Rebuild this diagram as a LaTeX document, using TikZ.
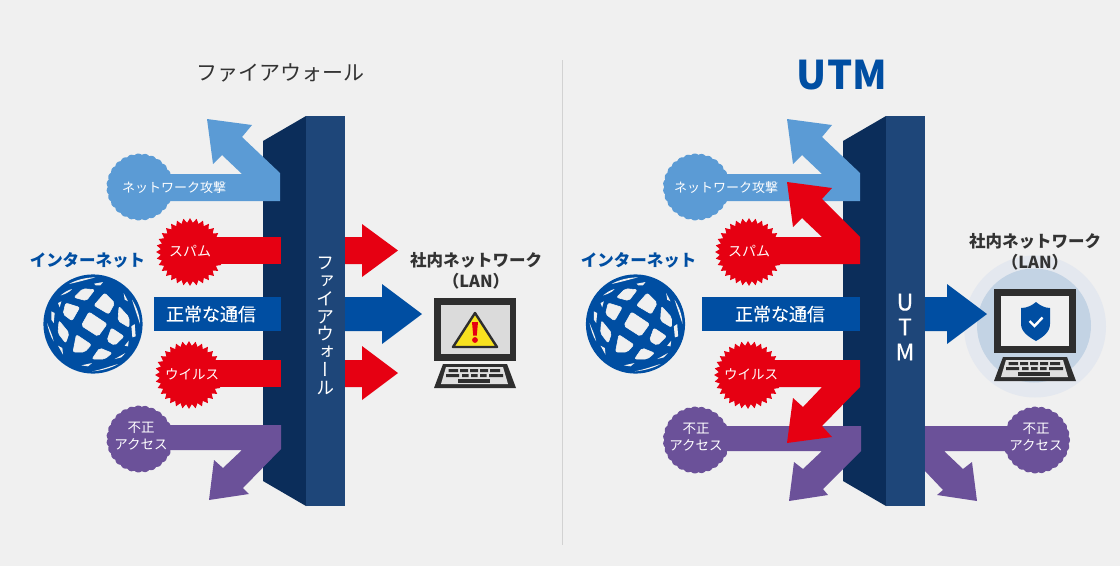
\documentclass[tikz,border=0pt]{standalone}
\usepackage{fontspec}
\setmainfont{Noto Sans CJK JP}
\newfontfamily\vfont[RawFeature=+vert]{Noto Sans CJK JP}
\definecolor{bg}{HTML}{F0F0F0}
\definecolor{cred}{HTML}{E60012}
\definecolor{cblue}{HTML}{004EA2}
\definecolor{clight}{HTML}{5B9BD5}
\definecolor{cpurple}{HTML}{6B5199}
\definecolor{wallD}{HTML}{0B2D5A}
\definecolor{wallF}{HTML}{1E4679}
\definecolor{ink}{HTML}{333333}
\definecolor{lapdark}{HTML}{2E2E2E}
\definecolor{halo}{HTML}{E4E8EF}
\definecolor{haloin}{HTML}{C3D3E4}
\definecolor{warn}{HTML}{F8E21F}
\tikzset{
  lbl/.style={text=white,inner sep=0pt,align=center},
  lblT/.style={lbl,font=\fontsize{13.5}{17}\selectfont},
  lblN/.style={lbl,font=\fontsize{18}{20}\selectfont\addfontfeature{FakeBold=0.3}},
  headB/.style={text=ink,inner sep=0pt,align=center,font=\fontsize{16.5}{21}\selectfont\bfseries},
  headC/.style={text=cblue,inner sep=0pt,font=\fontsize{16.5}{20}\selectfont\bfseries},
}
% spiky burst
\newcommand{\spiky}[3]{\fill[#3] plot[samples=65,domain=0:360,variable=\t] ({#1+(31.6+2.3*cos(32*\t))*cos(\t)},{#2+(31.6+2.3*cos(32*\t))*sin(\t)}) -- cycle;}
% scalloped burst
\newcommand{\scallop}[3]{\fill[#3] plot[samples=217,domain=0:360,variable=\t] ({#1+(32.2+1.3*abs(cos(13.5*\t)))*cos(\t)},{#2+(32.2+1.3*abs(cos(13.5*\t)))*sin(\t)}) -- cycle;}
% wall
\newcommand{\wall}[1]{\begin{scope}[shift={(#1,0)}]
  \fill[wallD] (263,141)--(306,116)--(306,506)--(263,481)--cycle;
  \fill[wallF] (306,116) rectangle (345,506);
\end{scope}}
% keyboard
\newcommand{\kbd}[2]{\begin{scope}[shift={(#1,#2)}]
  \fill[lapdark] (9,0)--(73,0)--(82,24)--(0,24)--cycle;
  \fill[gray!25] (12,3)--(69,3)--(74,20)--(7,20)--cycle;
  \fill[lapdark] (14.5,5) rectangle (24,8) (26,5) rectangle (34,8) (36,5) rectangle (44,8) (46,5) rectangle (54,8) (56,5) rectangle (66,8);
  \fill[lapdark] (12,10) rectangle (25,13) (28,10) rectangle (34.5,13) (37,10) rectangle (43.5,13) (46,10) rectangle (52.5,13) (55,10) rectangle (69,13);
  \fill[lapdark] (24,15) rectangle (56,18.5);
\end{scope}}
% globe
\newcommand{\globe}[2]{\begin{scope}[shift={(#1,#2)}]
  \fill[cblue] (0,0) circle (49.6);
  \begin{scope}[shift={(-63.3,-59.3)},x=0.3333pt,y=-0.3333pt]
  \filldraw[fill=bg,draw=bg,line width=0.6pt,line join=round,rounded corners=2pt]
    (178,142)--(232,178)--(205,215)--(155,183)--cycle
    (225,85)--(255,115)--(237,148)--(193,122)--cycle
    (160,72)--(195,75)--(170,108)--(133,98)--cycle
    (108,115)--(150,128)--(127,168)--(100,148)--cycle
    (268,125)--(298,158)--(298,188)--(265,168)--cycle
    (245,190)--(283,215)--(255,242)--(232,228)--cycle
    (140,210)--(185,240)--(165,262)--(130,262)--cycle
    (210,250)--(247,265)--(225,283)--(187,283)--cycle
    (88,168)--(118,205)--(108,235)--(85,205)--cycle;
  \fill[bg]
    (118,58) .. controls (140,45) and (170,38) .. (197,38) .. controls (170,45) and (145,52) .. (118,58) --cycle
    (193,57)--(220,52)--(212,62)--(198,62)--cycle
    (93,92) .. controls (105,82) and (115,76) .. (127,73) .. controls (120,82) and (108,88) .. (93,92) --cycle
    (85,115)--(95,110)--(90,128)--cycle
    (65,140)--(75,145)--(72,175)--(65,165)--cycle
    (52,175) .. controls (55,190) and (62,215) .. (72,230) .. controls (68,210) and (60,195) .. (52,175) --cycle
    (85,243)--(98,250)--(100,270)--cycle
    (155,302)--(187,295)--(175,305)--cycle
    (187,320) .. controls (215,318) and (245,310) .. (265,298) .. controls (240,305) and (215,315) .. (187,320) --cycle
    (255,283)--(287,265)--(275,278)--cycle
    (285,243)--(297,228)--(295,245)--cycle
    (305,185)--(315,178)--(318,215)--(308,218)--cycle
    (307,105) .. controls (320,125) and (330,150) .. (331,178) .. controls (322,150) and (315,130) .. (307,105) --cycle
    (282,85)--(295,110)--(285,105)--cycle;
  \end{scope}
\end{scope}}
\begin{document}
\begin{tikzpicture}[x=1pt,y=-1pt]
\useasboundingbox (0,0) rectangle (1120,566);
\fill[bg] (0,0) rectangle (1120,566);
\draw[gray!35,line width=0.8pt] (562,60) -- (562,545);

%%%%% LEFT
\node[text=ink,inner sep=0pt,font=\fontsize{21}{24}\selectfont] (titleL) at (280,73) {ファイアウォール};
\wall{0}
% net attack
\fill[clight] (140,174)--(242,174)--(222,155)--(213,164)--(207,119)--(252,125)--(242,137)--(280,173)--(280,201)--(140,201)--cycle;
\scallop{140}{187}{clight}
\node[lbl,font=\fontsize{13}{16}\selectfont] (netL) at (174,188) {ネットワーク攻撃};
% spam
\fill[cred] (190,237) rectangle (281,264);
\spiky{190}{252}{cred}
\node[lbl,font=\fontsize{14}{16}\selectfont] (spamL) at (190,251) {スパム};
% normal
\fill[cblue] (154,297) rectangle (281,331);
\node[lblN] (normL) at (211,314) {正常な通信};
% virus
\fill[cred] (189,360) rectangle (281,387);
\spiky{189}{375}{cred}
\node[lblT] (virL) at (192,374.5) {ウイルス};
% illegal
\fill[cpurple] (140,425)--(281,425)--(281,449)--(243,488)--(249,494)--(209,500)--(214,460)--(223,468)--(242,450)--(140,450)--cycle;
\scallop{140}{439}{cpurple}
\node[lblT] (illL) at (141,436) {不正\\アクセス};
% right arrows
\fill[cred] (345,237)--(362,237)--(362,224)--(398,250.5)--(362,277)--(362,264)--(345,264)--cycle;
\fill[cblue] (345,297)--(382,297)--(382,284)--(422,314)--(382,344)--(382,331)--(345,331)--cycle;
\fill[cred] (345,360)--(362,360)--(362,346)--(398,373)--(362,400)--(362,387)--(345,387)--cycle;
% vertical label
\node[text=white,inner sep=0pt,align=center,font=\fontsize{18}{17.75}\selectfont\vfont] (vtext) at (325,326) {フ\\ァ\\イ\\ア\\ウ\\ォ\\ー\\ル};
% internet
\node[headC] (inetL) at (87.5,260) {インターネット};
\globe{93}{324}
% LAN
\node[headB] (lanL) at (476,270.5) {社内ネットワーク\\（LAN）};
\fill[lapdark] (434,298) rectangle (516,361);
\fill[gray!28] (441,305) rectangle (510,354);
\fill[warn,draw=lapdark,line width=2.4pt,line join=round] (475,313)--(453,347)--(497,347)--cycle;
\fill[cred] (472,322)--(478,322)--(476.8,335.5)--(473.2,335.5)--cycle;
\fill[cred] (475,340) circle (2.9);
\kbd{434}{364}

%%%%% RIGHT
\node[text=cblue,inner sep=0pt,font=\fontsize{39.5}{44}\selectfont\bfseries] (titleR) at (842,75) {UTM};
\wall{580}
% net attack
\fill[clight] (697,174)--(822,174)--(802,155)--(793,164)--(787,119)--(832,125)--(822,137)--(860,173)--(860,201)--(697,201)--cycle;
\scallop{696.5}{187}{clight}
\node[lbl,font=\fontsize{13}{16}\selectfont] (netR) at (726,188) {ネットワーク攻撃};
% illegal (left of wall)
\fill[cpurple] (697,426)--(861,426)--(861,451)--(823,489)--(828,495)--(789,501)--(794,462)--(803,469)--(822,451)--(697,451)--cycle;
\scallop{696.5}{440}{cpurple}
\node[lblT] (illR) at (696,437) {不正\\アクセス};
% spam
\fill[cred] (748,237)--(822,237)--(802,218)--(793,227)--(787,182)--(832,188)--(822,199)--(860,237)--(860,264)--(748,264)--cycle;
\spiky{749}{252}{cred}
\node[lbl,font=\fontsize{14}{16}\selectfont] (spamR) at (749,251) {スパム};
% normal
\fill[cblue] (702,297) rectangle (860,331);
\node[lblN] (normR) at (780,314) {正常な通信};
% virus
\fill[cred] (747,360)--(860,360)--(860,387)--(822,426)--(832,437)--(787,443)--(793,398)--(803,407)--(822,387)--(747,387)--cycle;
\spiky{748}{375}{cred}
\node[lblT] (virR) at (751,374.5) {ウイルス};
% illegal out
\fill[cpurple] (1037,426)--(925,426)--(925,471)--(943,490)--(937,495)--(977,501)--(972,462)--(963,469)--(944,451)--(1037,451)--cycle;
\scallop{1036.5}{440}{cpurple}
\node[lblT] (illO) at (1036,437) {不正\\アクセス};
% UTM vertical
\node[text=white,inner sep=0pt,align=center,font=\fontsize{23}{25}\selectfont\addfontfeature{FakeBold=0.4}] (vutm) at (905,327) {U\\T\\M};
% halo
\fill[halo] (1035,326.5) circle (71);
\fill[haloin] (1034,325.5) circle (57);
% out arrow
\fill[cblue] (925,297)--(947,297)--(947,284)--(987,314)--(947,344)--(947,331)--(925,331)--cycle;
% internet
\node[headC] (inetR) at (638.5,260) {インターネット};
\globe{635.5}{324}
% LAN
\node[headB] (lanR) at (1035,252) {社内ネットワーク\\（LAN）};
\fill[lapdark] (994,289) rectangle (1076,353);
\fill[bg] (1001,296) rectangle (1069,346);
\fill[cblue] (1036,302) .. controls (1040,305.5) and (1045,308) .. (1050,308) -- (1050,324) .. controls (1050,332) and (1043,337) .. (1036,341) .. controls (1029,337) and (1021,332) .. (1021,324) -- (1021,308) .. controls (1027,308) and (1032,305.5) .. (1036,302) -- cycle;
\draw[white,line width=2.4pt] (1029.5,321) -- (1034.5,326) -- (1042.5,317.5);
\kbd{994}{357}
\end{tikzpicture}
\end{document}
